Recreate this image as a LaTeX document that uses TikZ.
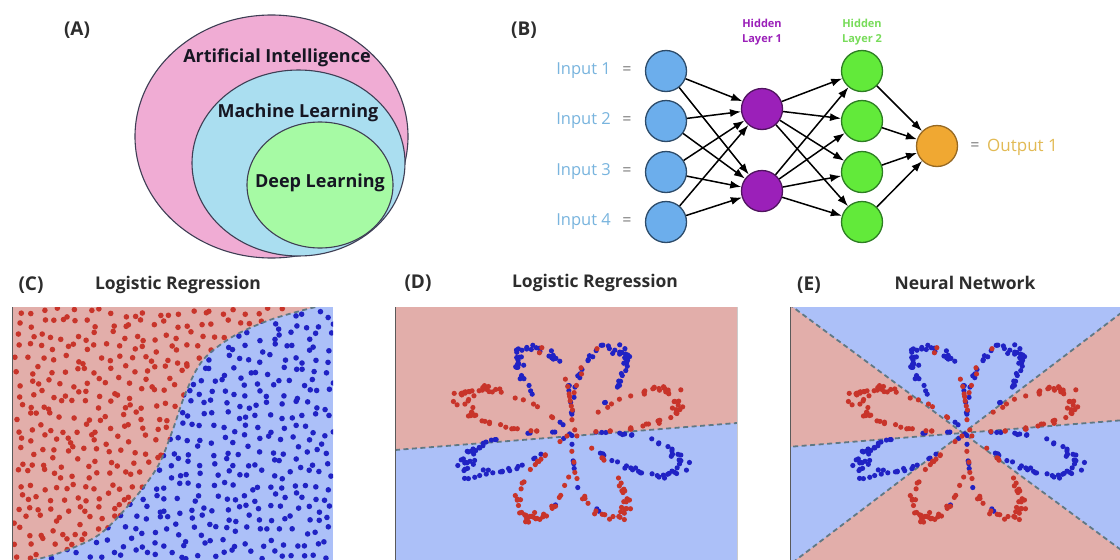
\documentclass[tikz,border=0pt]{standalone}
\usepackage{fontspec}
\setmainfont{Open Sans}
\usetikzlibrary{arrows.meta}

% Venn diagram
\definecolor{aipink}{RGB}{240,172,212}
\definecolor{mlblue}{RGB}{170,222,240}
\definecolor{dlgreen}{RGB}{166,250,164}
\definecolor{vennline}{RGB}{62,62,84}
\definecolor{venntext}{RGB}{22,22,34}
% network
\definecolor{inblue}{RGB}{108,174,236}
\definecolor{inedge}{RGB}{45,75,105}
\definecolor{inlabel}{RGB}{120,180,222}
\definecolor{hidpurple}{RGB}{155,32,185}
\definecolor{hidpedge}{RGB}{80,20,95}
\definecolor{hidgreen}{RGB}{98,234,58}
\definecolor{hidgedge}{RGB}{45,125,35}
\definecolor{hidglabel}{RGB}{120,220,90}
\definecolor{outorange}{RGB}{240,168,50}
\definecolor{outedge}{RGB}{150,105,35}
\definecolor{outlabel}{RGB}{226,186,84}
\definecolor{eqgray}{RGB}{120,120,120}
% decision plots
\definecolor{regred}{RGB}{226,174,170}
\definecolor{regblue}{RGB}{172,192,248}
\definecolor{dotred}{RGB}{200,52,42}
\definecolor{dotblue}{RGB}{32,34,196}
\definecolor{bound}{RGB}{96,120,132}
\definecolor{spinegray}{RGB}{90,90,90}
\definecolor{titlegray}{RGB}{45,45,45}

% jittered uniform scatter: #1 colour, #2 seed
\newcommand\gridscatter[2]{%
  \pgfmathsetseed{#2}%
  \foreach \i in {0,...,27}{\foreach \j in {0,...,21}{%
    \pgfmathsetmacro\px{18+11.5*\i+5*rand}%
    \pgfmathsetmacro\py{313+11.5*\j+5*rand}%
    \fill[#1] (\px,\py) circle[radius=2.8pt];
  }}%
}

% eight-petal "flower" data set: #1,#2 centre, #3 seed
\newcommand\flowerdots[3]{%
  \pgfmathsetseed{#3}%
  \foreach \cls/\col in {0/dotblue,1/dotred}{%
    \foreach \k in {0,...,199}{%
      \pgfmathsetmacro\th{3.12*(\cls+\k/199)+0.18*(rand+rand+rand)}%
      \pgfmathsetmacro\sv{sin(deg(4*\th))}%
      \pgfmathsetmacro\rr{4*sign(\sv)*abs(\sv)^0.55+0.18*(rand+rand+rand)}%
      \pgfmathsetmacro\px{#1+29*\rr*sin(deg(\th))}%
      \pgfmathsetmacro\py{#2-23*\rr*cos(deg(\th))}%
      \fill[\col] (\px,\py) circle[radius=2.6pt];
    }%
  }%
}

\begin{document}
\begin{tikzpicture}[x=1pt,y=-1pt,
  panellbl/.style={font=\bfseries\fontsize{19}{24}\selectfont, text=titlegray, inner sep=0pt},
  plottitle/.style={font=\bfseries\fontsize{17.5}{22}\selectfont, text=titlegray, inner sep=0pt},
  vennlbl/.style={font=\bfseries\fontsize{18}{22}\selectfont, text=venntext, inner sep=0pt},
  venn/.style={draw=vennline, line width=1.1pt},
  neuron/.style={circle, minimum size=41pt, inner sep=0pt, line width=1.3pt},
  inlbl/.style={font=\fontsize{16.5}{20}\selectfont, text=inlabel, inner sep=0pt, anchor=east},
  eqlbl/.style={font=\fontsize{16}{20}\selectfont, text=eqgray, inner sep=0pt},
  hidlbl/.style={font=\bfseries\fontsize{11}{15}\selectfont, align=center, inner sep=0pt},
  conn/.style={-{Latex[length=11pt,width=8pt]}, line width=1.5pt, black},
  bnd/.style={dash pattern=on 5pt off 3.5pt, line width=1.8pt, draw=bound},
  spine/.style={line width=1pt, draw=spinegray}]

\useasboundingbox (0,0) rectangle (1120,560);
\fill[white] (0,0) rectangle (1120,560);

% ---------------- (A) nested fields ----------------
\node[panellbl] (la) at (77,30) {(A)};
\draw[venn, fill=aipink]  (271.5,136.5) ellipse [x radius=136.5pt, y radius=121.5pt];
\draw[venn, fill=mlblue]  (298.5,163)   ellipse [x radius=106.5pt, y radius=93pt];
\draw[venn, fill=dlgreen] (320,185)     ellipse [x radius=73pt,    y radius=63pt];
\node[vennlbl] (ai) at (277,58)  {Artificial Intelligence};
\node[vennlbl] (ml) at (298,113) {Machine Learning};
\node[vennlbl] (dl) at (320,183) {Deep Learning};

% ---------------- (B) feed-forward network ----------------
\node[panellbl] (lb) at (524,30) {(B)};
\foreach \n/\y in {1/71,2/121,3/172,4/222}{
  \node[neuron, fill=inblue, draw=inedge] (i\n) at (666,\y) {};
  \node[inlbl] (t\n) at (611,\y) {Input \n};
  \node[eqlbl] (e\n) at (627,\y) {=};
}
\node[neuron, fill=hidpurple, draw=hidpedge] (h1) at (762,109) {};
\node[neuron, fill=hidpurple, draw=hidpedge] (h2) at (762,191) {};
\foreach \n/\y in {1/71,2/121,3/172,4/222}
  \node[neuron, fill=hidgreen, draw=hidgedge] (g\n) at (862,\y) {};
\node[neuron, fill=outorange, draw=outedge] (o) at (937,146) {};

\node[hidlbl, text=hidpurple] (hl1) at (762,32) {Hidden\\Layer 1};
\node[hidlbl, text=hidglabel] (hl2) at (862,32) {Hidden\\Layer 2};
\node[eqlbl] (eo) at (975,147) {=};
\node[inlbl, anchor=west, text=outlabel, font=\fontsize{17}{20}\selectfont] (ol) at (987,147) {Output 1};

\foreach \a in {i1,i2,i3,i4}
  \foreach \b in {h1,h2}
    \draw[conn] (\a) -- (\b);
\foreach \a in {h1,h2}
  \foreach \b in {g1,g2,g3,g4}
    \draw[conn] (\a) -- (\b);
\foreach \a in {g1,g2,g3,g4}
  \draw[conn] (\a) -- (o);

% ---------------- (C) logistic regression, linear-ish data ----------------
\node[panellbl] (lc) at (31,285) {(C)};
\node[plottitle] (tc) at (178,285) {Logistic Regression};
\begin{scope}
  \clip (12,307) rectangle (333,560);
  \fill[regblue] (12,307) rectangle (333,560);
  \fill[regred] (5,300) -- plot[smooth,tension=0.55] coordinates {(340,301) (300,311) (267,321) (232,337) (203,360) (186,392) (172,432) (158,466) (134,499) (100,534) (62,552) (30,561) (10,566)} -- (5,566) -- cycle;
  \begin{scope}
    \clip (5,300) -- plot[smooth,tension=0.55] coordinates {(340,301) (300,311) (267,321) (232,337) (203,360) (186,392) (172,432) (158,466) (134,499) (100,534) (62,552) (30,561) (10,566)} -- (5,566) -- cycle;
    \gridscatter{dotred}{11}
  \end{scope}
  \begin{scope}
    \clip (345,300) -- plot[smooth,tension=0.55] coordinates {(340,301) (300,311) (267,321) (232,337) (203,360) (186,392) (172,432) (158,466) (134,499) (100,534) (62,552) (30,561) (10,566)} -- (345,566) -- cycle;
    \gridscatter{dotblue}{11}
  \end{scope}
  \draw[bnd] plot[smooth,tension=0.55] coordinates {(340,301) (300,311) (267,321) (232,337) (203,360) (186,392) (172,432) (158,466) (134,499) (100,534) (62,552) (30,561) (10,566)};
\end{scope}
\draw[spine] (12,307) -- (12,560);

% ---------------- (D) logistic regression, flower data ----------------
\node[panellbl] (ld) at (418,283) {(D)};
\node[plottitle] (td) at (595,283) {Logistic Regression};
\begin{scope}
  \clip (395,307) rectangle (737,560);
  \fill[regblue] (395,307) rectangle (737,560);
  \coordinate (dl) at (395,450);
  \coordinate (dr) at (737,423);
  \fill[regred] (395,307) -- (737,307) -- (dr) -- (dl) -- cycle;
  \draw[bnd] (dl) -- (dr);
  \flowerdots{572}{432}{5}
\end{scope}
\draw[spine] (395,307) -- (395,560);
\draw[line width=0.6pt, draw=gray!40] (737,307) -- (737,560);

% ---------------- (E) neural network, flower data ----------------
\node[panellbl] (le) at (809,285) {(E)};
\node[plottitle] (te) at (965,283) {Neural Network};
\begin{scope}
  \clip (790,307) rectangle (1120,560);
  \fill[regblue] (790,307) rectangle (1120,560);
  \coordinate (ec) at (963,433);
  \coordinate (a1) at (700,238.4);  \coordinate (b1) at (1256,649.8);
  \coordinate (a2) at (677.5,650);  \coordinate (b2) at (1200,253);
  \coordinate (a3) at (700,454);    \coordinate (b3) at (1200,414);
  \fill[regred] (ec) -- (a1) -- (a3) -- cycle;
  \fill[regred] (ec) -- (b2) -- (b3) -- cycle;
  \fill[regred] (ec) -- (a2) -- (b1) -- cycle;
  \draw[bnd] (a1) -- (b1);
  \draw[bnd] (a2) -- (b2);
  \draw[bnd] (a3) -- (b3);
  \flowerdots{967}{432}{5}
\end{scope}
\draw[spine] (790,307) -- (790,560);

\end{tikzpicture}
\end{document}
